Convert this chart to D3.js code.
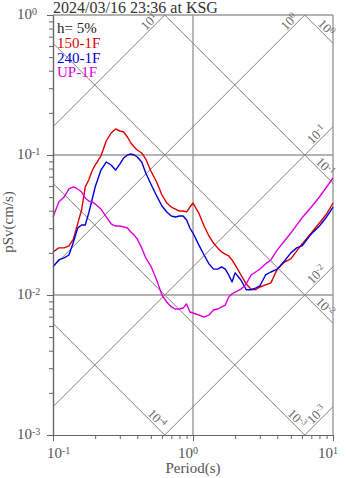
<!DOCTYPE html>
<html>
<head>
<meta charset="utf-8">
<script src="https://cdn.jsdelivr.net/npm/d3@7"></script>
<style>
  body { margin: 0; background: #fff; }
  svg { display: block; }
  text { font-family: "Liberation Serif", "Times New Roman", serif; }
</style>
</head>
<body>
<svg id="chart" width="347" height="478"></svg>
<script>
// Response spectra (pseudo velocity, h = 5%)
const titleText = "2024/03/16 23:36 at KSG";
const dampingLabel = "h= 5%";
const seriesNames = ["150-1F", "240-1F", "UP-1F"];
const seriesColors = ["#dd0000", "#0000dd", "#dd00dd"];

const periods = [0.10,0.11,0.12,0.13,0.14,0.15,0.16,0.17,0.18,0.19,0.20,0.22,0.24,0.26,0.28,0.30,0.32,0.34,0.36,0.38,0.40,0.43,0.46,0.50,0.55,0.60,0.65,0.70,0.75,0.80,0.85,0.90,0.95,1.0,1.1,1.2,1.3,1.4,1.5,1.6,1.7,1.8,1.9,2.0,2.2,2.4,2.6,2.8,3.0,3.3,3.6,4.0,4.5,5.0,5.5,6.0,7.0,8.0,9.0,10.0];

const sv150 = [0.0203,0.0217,0.0217,0.0224,0.0251,0.0322,0.0405,0.0591,0.0663,0.0769,0.0848,
  0.0984,0.1259,0.1436,0.1534,0.1484,0.1460,0.1345,0.1218,0.1141,0.1086,
  0.1034,0.0936,0.0769,
  0.0641,0.0518,0.0454,0.0425,0.0411,0.0398,0.0398,0.0392,0.0425,
  0.0454,0.0385,0.0311,0.0264,0.0235,0.0217,0.0203,0.0196,0.0190,0.0178,0.0164,
  0.0139,0.0120,0.0110,0.0109,0.0114,
  0.0118,0.0122,0.0153,0.0172,0.0181,0.0206,0.0231,
  0.0277,0.0327,0.0379,0.0454];

const sv240 = [0.0159,0.0178,0.0184,0.0193,0.0239,0.0301,0.0316,0.0316,0.0385,0.0477,0.0591,
  0.0781,0.0891,0.0848,0.0781,0.0862,0.0952,0.1000,0.1017,0.1000,0.0968,
  0.0891,0.0744,0.0621,
  0.0510,0.0432,0.0392,0.0367,0.0361,0.0367,0.0367,0.0343,0.0301,
  0.0277,0.0228,0.0193,0.0167,0.0153,0.0153,0.0159,0.0153,0.0139,0.0124,0.0144,
  0.0128,0.0109,0.0109,0.0112,0.0116,
  0.0139,0.0146,0.0153,0.0175,0.0200,0.0217,0.0224,
  0.0273,0.0311,0.0361,0.0425];

const svUP = [0.0361,0.0462,0.0501,0.0572,0.0591,0.0572,0.0544,0.0493,0.0469,0.0462,0.0447,
  0.0411,0.0361,0.0322,0.0311,0.0311,0.0306,0.0301,0.0282,0.0268,0.0251,
  0.0217,0.0184,0.0161,
  0.0128,0.0100,0.00891,0.00821,0.00794,0.00794,0.00808,0.00862,0.00756,
  0.00744,0.00720,0.00696,0.00720,0.00781,0.00794,0.00821,0.00848,0.00968,0.0102,0.0105,
  0.0110,0.0120,0.0139,0.0146,0.0153,
  0.0167,0.0178,0.0210,0.0243,0.0277,0.0316,0.0355,
  0.0425,0.0501,0.0591,0.0685];

const periodTicks = [0.1, 1, 10];
const svTicks = [0.001, 0.01, 0.1, 1];
const sdLevels = [1, 0.1, 0.01, 0.001, 0.0001];   // displacement, cm
const saLevels = [10, 1, 0.1, 0.01, 0.001];       // acceleration, cm/s^2

const svg = d3.select("#chart");
const plot = { left: 53, right: 333, top: 15, bottom: 435 };

const x = d3.scaleLog().domain([0.1, 10]).range([plot.left, plot.right]);
const y = d3.scaleLog().domain([0.001, 1]).range([plot.bottom, plot.top]);

const minorOf = decades => decades.slice(0, -1).flatMap(d => d3.range(2, 10).map(k => d * k));

svg.append("defs").append("clipPath").attr("id", "plotClip")
  .append("rect")
  .attr("x", plot.left).attr("y", plot.top)
  .attr("width", plot.right - plot.left).attr("height", plot.bottom - plot.top);

// decade grid
const grid = svg.append("g").attr("stroke", "#9a9a9a").attr("stroke-width", 1.4);
periodTicks.slice(1, -1).forEach(t => grid.append("line")
  .attr("x1", x(t)).attr("x2", x(t)).attr("y1", plot.top).attr("y2", plot.bottom));
svTicks.slice(1, -1).forEach(v => grid.append("line")
  .attr("x1", plot.left).attr("x2", plot.right).attr("y1", y(v)).attr("y2", y(v)));
// frame top / right
grid.append("line").attr("x1", plot.left).attr("x2", plot.right).attr("y1", plot.top).attr("y2", plot.top);
grid.append("line").attr("x1", plot.right).attr("x2", plot.right).attr("y1", plot.top).attr("y2", plot.bottom);

// tripartite lines
const TWO_PI = 2 * Math.PI;
const diag = svg.append("g").attr("clip-path", "url(#plotClip)")
  .attr("stroke", "#808080").attr("stroke-width", 1).attr("fill", "none");
const lineGen = d3.line().x(d => x(d[0])).y(d => y(d[1]));
const [tMin, tMax] = x.domain();
const [vMin, vMax] = y.domain();

sdLevels.forEach(sd => diag.append("path")
  .attr("d", lineGen([[tMin, TWO_PI * sd / tMin], [tMax, TWO_PI * sd / tMax]])));
saLevels.forEach(sa => diag.append("path")
  .attr("d", lineGen([[tMin, sa * tMin / TWO_PI], [tMax, sa * tMax / TWO_PI]])));

function powerLabel(sel, exp, base, sup) {
  sel.append("tspan").attr("font-size", base).text("10");
  sel.append("tspan").attr("font-size", sup).attr("dy", "-0.45em").text(exp);
}

const diagLabels = svg.append("g").attr("fill", "#666");
const back = 7;
sdLevels.forEach(sd => {
  const tEnd = Math.min(tMax, TWO_PI * sd / vMin);
  const px = x(tEnd), py = y(TWO_PI * sd / tEnd);
  const ax = px - back * Math.SQRT1_2, ay = py - back * Math.SQRT1_2;
  const t = diagLabels.append("text")
    .attr("transform", `translate(${ax},${ay}) rotate(45)`)
    .attr("text-anchor", "end").attr("y", -2);
  powerLabel(t, Math.round(Math.log10(sd)), 13, 9);
});
saLevels.forEach(sa => {
  const tEnd = Math.min(tMax, TWO_PI * vMax / sa);
  const px = x(tEnd), py = y(sa * tEnd / TWO_PI);
  const ax = px - back * Math.SQRT1_2, ay = py + back * Math.SQRT1_2;
  const t = diagLabels.append("text")
    .attr("transform", `translate(${ax},${ay}) rotate(-45)`)
    .attr("text-anchor", "end").attr("y", -2);
  powerLabel(t, Math.round(Math.log10(sa)), 13, 9);
});

// spectra
const curve = d3.line().x(d => x(d[0])).y(d => y(d[1]));
[sv150, sv240, svUP].forEach((vals, i) => {
  svg.append("path")
    .datum(periods.map((p, j) => [p, vals[j]]))
    .attr("fill", "none")
    .attr("stroke", seriesColors[i])
    .attr("stroke-width", 1.4)
    .attr("stroke-linejoin", "round")
    .attr("d", curve);
});

// axes
const axisColor = "#666";
function styleAxis(g) {
  g.select(".domain").attr("stroke", axisColor).attr("stroke-width", 1.2);
  g.selectAll(".tick line").attr("stroke", axisColor);
  g.selectAll(".tick text").remove();
}
svg.append("g").attr("transform", `translate(${plot.left},0)`)
  .call(d3.axisLeft(y).tickValues(svTicks).tickSize(6).tickSizeOuter(0).tickFormat(""))
  .call(styleAxis);
svg.append("g").attr("transform", `translate(${plot.left},0)`)
  .call(d3.axisLeft(y).tickValues(minorOf(svTicks)).tickSize(4).tickSizeOuter(0).tickFormat(""))
  .call(styleAxis);
svg.append("g").attr("transform", `translate(0,${plot.bottom})`)
  .call(d3.axisBottom(x).tickValues(periodTicks).tickSize(6).tickSizeOuter(0).tickFormat(""))
  .call(styleAxis);
svg.append("g").attr("transform", `translate(0,${plot.bottom})`)
  .call(d3.axisBottom(x).tickValues(minorOf(periodTicks)).tickSize(4).tickSizeOuter(0).tickFormat(""))
  .call(styleAxis);

const tickLabels = svg.append("g").attr("fill", "#555");
svTicks.forEach(v => {
  const t = tickLabels.append("text").attr("x", 17).attr("y", y(v) + 4);
  powerLabel(t, Math.round(Math.log10(v)), 15, 10);
});
periodTicks.forEach((p, i) => {
  const t = tickLabels.append("text").attr("x", x(p) + (i === 0 ? -6 : -15)).attr("y", 458);
  powerLabel(t, Math.round(Math.log10(p)), 15, 10);
});

// axis titles
svg.append("text").attr("transform", "translate(13,222) rotate(-90)")
  .attr("text-anchor", "middle").attr("font-size", 15).attr("fill", "#555").text("pSv(cm/s)");
svg.append("text").attr("x", (plot.left + plot.right) / 2).attr("y", 473)
  .attr("text-anchor", "middle").attr("font-size", 15).attr("fill", "#555").text("Period(s)");

// title
svg.append("text").attr("x", plot.left).attr("y", 13)
  .attr("font-size", 16).attr("fill", "#333").text(titleText);

// legend
const legend = svg.append("g").attr("font-size", 15);
legend.append("text").attr("x", 57).attr("y", 33).attr("fill", "#222").text(dampingLabel);
seriesNames.forEach((name, i) => legend.append("text")
  .attr("x", 57).attr("y", 48 + i * 14.7).attr("fill", seriesColors[i]).text(name));
</script>
</body>
</html>
